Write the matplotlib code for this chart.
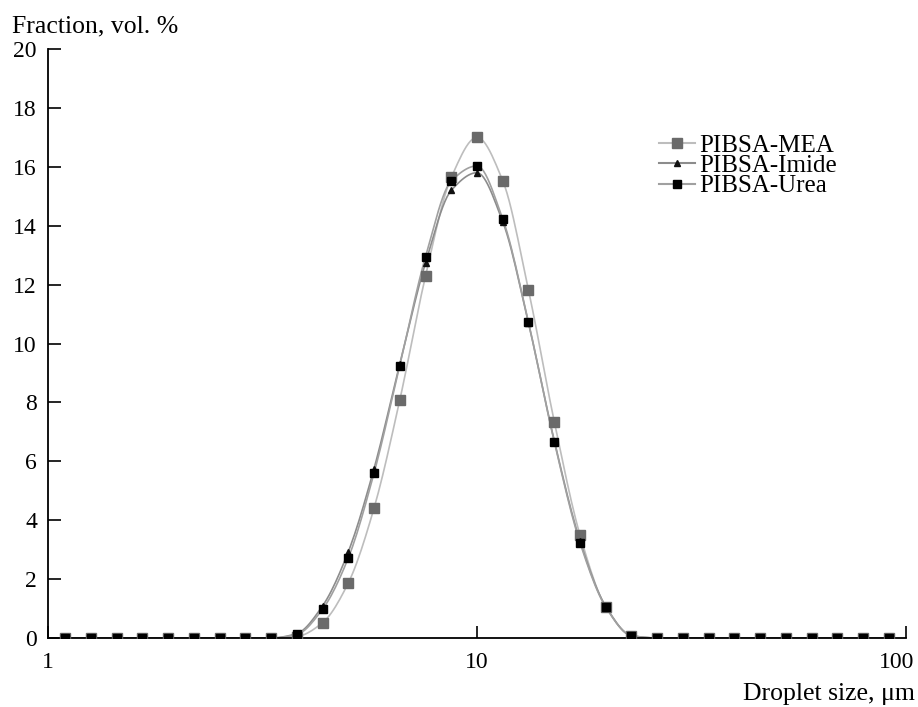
import numpy as np
import matplotlib
matplotlib.use("Agg")
import matplotlib.pyplot as plt
from matplotlib.transforms import ScaledTranslation

# ---- data ----
sizes = [1.096, 1.259, 1.445, 1.660, 1.905, 2.188, 2.512, 2.884, 3.311, 3.802,
         4.365, 5.012, 5.754, 6.607, 7.586, 8.710, 10.0, 11.48, 13.18, 15.14,
         17.38, 19.95, 22.91, 26.30, 30.20, 34.67, 39.81, 45.71, 52.48, 60.26,
         69.18, 79.43, 91.20]
mea = [0, 0, 0, 0, 0, 0, 0, 0, 0, 0.05,
       0.52, 1.87, 4.41, 8.08, 12.29, 15.64, 17.0, 15.53, 11.82, 7.35,
       3.50, 1.06, 0.08, 0, 0, 0, 0, 0, 0, 0,
       0, 0, 0]
imide = [0, 0, 0, 0, 0, 0, 0, 0, 0, 0.15,
         1.09, 2.93, 5.75, 9.30, 12.74, 15.20, 15.80, 14.14, 10.70, 6.70,
         3.30, 1.08, 0.08, 0, 0, 0, 0, 0, 0, 0,
         0, 0, 0]
urea = [0, 0, 0, 0, 0, 0, 0, 0, 0, 0.12,
        0.98, 2.72, 5.60, 9.25, 12.95, 15.52, 16.03, 14.23, 10.72, 6.67,
        3.24, 1.06, 0.08, 0, 0, 0, 0, 0, 0, 0,
        0, 0, 0]
labels = ["PIBSA-MEA", "PIBSA-Imide", "PIBSA-Urea"]
yticks = [0, 2, 4, 6, 8, 10, 12, 14, 16, 18, 20]
xticks = [1, 10, 100]


def pchip_curve(x, y, n=12):
    """Monotone cubic Hermite curve through the points (in log-x space)."""
    u = np.log10(np.asarray(x, float))
    y = np.asarray(y, float)
    h = np.diff(u)
    d = np.diff(y) / h
    m = np.zeros_like(y)
    m[0], m[-1] = d[0], d[-1]
    for k in range(1, len(y) - 1):
        if d[k - 1] * d[k] > 0:
            w1 = 2 * h[k] + h[k - 1]
            w2 = h[k] + 2 * h[k - 1]
            m[k] = (w1 + w2) / (w1 / d[k - 1] + w2 / d[k])
    us, ys = [], []
    for k in range(len(y) - 1):
        t = np.linspace(0, 1, n, endpoint=False)
        h00 = 2 * t**3 - 3 * t**2 + 1
        h10 = t**3 - 2 * t**2 + t
        h01 = -2 * t**3 + 3 * t**2
        h11 = t**3 - t**2
        us.append(u[k] + t * h[k])
        ys.append(h00 * y[k] + h10 * h[k] * m[k] + h01 * y[k + 1] + h11 * h[k] * m[k + 1])
    us.append([u[-1]])
    ys.append([y[-1]])
    return 10 ** np.concatenate(us), np.concatenate(ys)


plt.rcParams['font.family'] = ['Liberation Serif', 'DejaVu Serif']
plt.rcParams['font.size'] = 17

fig = plt.figure(figsize=(9.18, 7.07), dpi=100)
ax = fig.add_axes([48 / 918, 69 / 707, (906 - 48) / 918, (638 - 49) / 707])

styles = [
    dict(series=mea, line='#bdbdbd', mc='#6a6a6a', marker='s', ms=6.5),
    dict(series=imide, line='#8c8c8c', mc='#111111', marker='^', ms=5),
    dict(series=urea, line='#a0a0a0', mc='#000000', marker='s', ms=6),
]
handles = []
for st, lab in zip(styles, labels):
    cx, cy = pchip_curve(sizes, st['series'])
    ax.plot(cx, cy, color=st['line'], lw=1.2, zorder=2)
    ax.plot(sizes, st['series'], linestyle='none', marker=st['marker'],
            ms=st['ms'], color=st['mc'], mec=st['mc'], zorder=3)
    h, = ax.plot([], [], color=st['line'], lw=1.5, marker=st['marker'],
                 ms=st['ms'], mfc=st['mc'], mec=st['mc'])
    handles.append(h)

ax.set_xscale('log')
ax.set_xlim(1, 100)
ax.set_ylim(0, 20)
ax.set_xticks(xticks)
ax.set_xticklabels([str(v) for v in xticks])
ax.xaxis.set_minor_locator(matplotlib.ticker.NullLocator())
ax.set_yticks(yticks)
ax.set_yticklabels([str(v) for v in yticks])
ax.tick_params(axis='both', direction='in', length=9, width=1.2, labelsize=17)
ax.tick_params(axis='x', pad=10)
ax.tick_params(axis='y', pad=8)
for s in ['top', 'right']:
    ax.spines[s].set_visible(False)
for s in ['left', 'bottom']:
    ax.spines[s].set_linewidth(1.3)

# shift the last x tick label slightly left (as in reference)
fig.canvas.draw()
lbls = ax.get_xticklabels()
lbls[-1].set_transform(lbls[-1].get_transform() + ScaledTranslation(-9 / 100, 0, fig.dpi_scale_trans))

fig.text(12 / 918, 1 - 32 / 707, "Fraction, vol. %", fontsize=18.5, ha='left', va='baseline')
fig.text(915 / 918, 1 - 700 / 707, "Droplet size, μm", fontsize=18.5, ha='right', va='baseline')

fig.legend(handles, labels, loc='upper left', bbox_to_anchor=(659 / 918, 1 - 134 / 707),
           frameon=False, fontsize=18, handlelength=1.45, handletextpad=0.15,
           labelspacing=-0.08, borderpad=0, borderaxespad=0)

fig.savefig("out.png", dpi=100)
